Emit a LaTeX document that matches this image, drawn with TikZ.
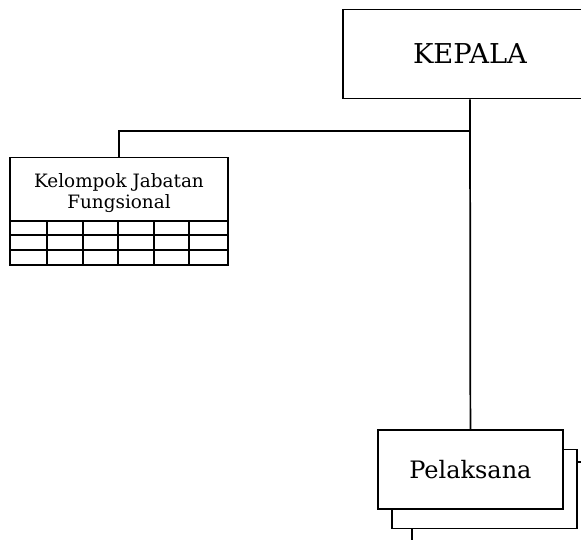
\documentclass[tikz,border=0pt]{standalone}
\usepackage{fontspec}
\setmainfont{DejaVu Serif}
\begin{document}
\begin{tikzpicture}[x=0.75pt,y=-0.75pt,
  line width=1.3pt,
  unitbox/.style={draw, fill=white, inner sep=0pt, align=center},
  caption/.style={inner sep=0pt, align=center}]
  \clip (0,0) rectangle (581,540);
  % head of the unit (right side runs past the page edge)
  \node[unitbox, minimum width=190.5pt, minimum height=66.75pt,
        font=\fontsize{20.5}{24}\selectfont] (kep) at (470,54) {KEPALA};
  % staff: a stack of two boxes
  \node[unitbox, minimum width=139pt, minimum height=59.25pt] (pelb) at (484.5,489) {};
  \node[unitbox, minimum width=139pt, minimum height=59.25pt,
        font=\fontsize{18}{21}\selectfont] (pel) at (470.4,469.5) {Pelaksana};
  % functional group header with its grid underneath
  \node[unitbox, minimum width=163.5pt, minimum height=47.6pt] (kjf) at (119,189.25) {};
  \node[caption, font=\fontsize{13.8}{15.5}\selectfont] (kjft) at (119,193)
        {Kelompok Jabatan\\Fungsional};
  \draw (10,221) rectangle (228,265);
  \foreach \yy in {235,250} \draw (10,\yy) -- (228,\yy);
  \foreach \xx in {46.7,82.7,117.7,154,189} \draw (\xx,221) -- (\xx,265);
  % connectors
  \coordinate (jn) at (470,131);
  \coordinate (rs) at (581,462);
  \coordinate (bs) at (412.3,540);
  \draw (kep.south) -- (pel.north);
  \draw (kjf.north) |- (jn);
  \draw (pelb.east |- rs) -- (rs);
  \draw (pelb.south -| bs) -- (bs);
\end{tikzpicture}
\end{document}
